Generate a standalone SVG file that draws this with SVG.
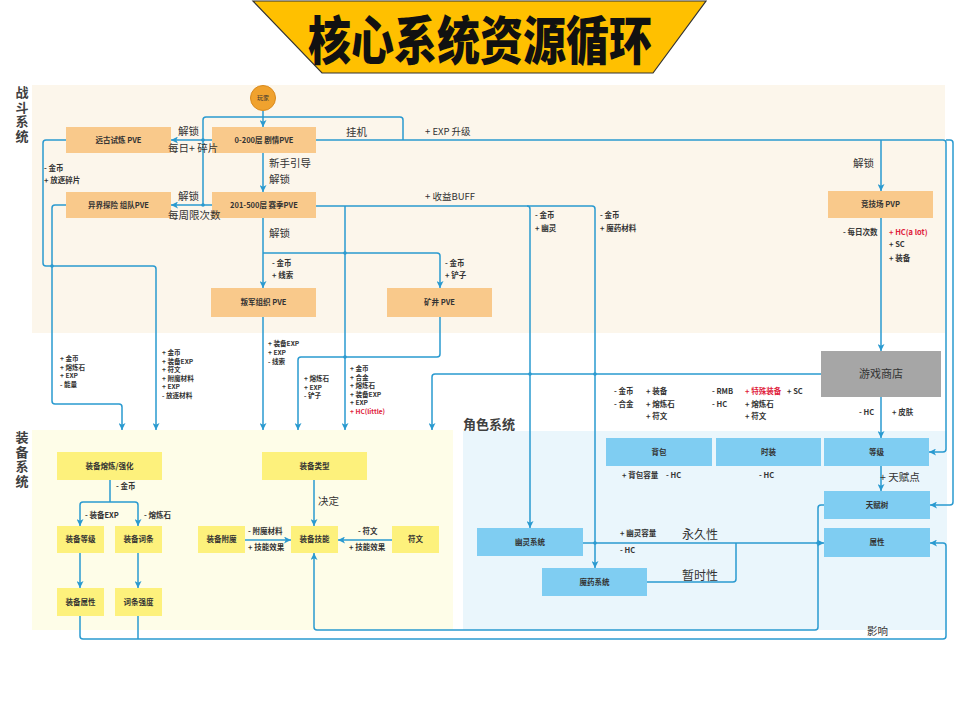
<svg xmlns="http://www.w3.org/2000/svg" width="960" height="720" viewBox="0 0 960 720">
<defs>
<marker id="arr" viewBox="0 0 8 8" refX="8" refY="4" markerWidth="7" markerHeight="7" markerUnits="userSpaceOnUse" orient="auto">
<path d="M0,0 L8,4 L0,8 L2,4 z" fill="#2A9AD0"/>
</marker>
</defs>
<style>
text{font-family:"Noto Sans CJK SC","Noto Sans","Liberation Sans",sans-serif;}
.ln{fill:none;stroke:#2A9AD0;stroke-width:1.5;}
.ar{marker-end:url(#arr);}
.dot{fill:#2A9AD0;}
.on{fill:#F9C98B;}
.yn{fill:#FDF17C;}
.bn{fill:#7FCDF2;}
.nt{font-size:7.5px;font-weight:bold;fill:#333;text-anchor:middle;}
.sl{font-size:7.5px;font-weight:bold;fill:#333;}
.ss{font-size:6.6px;font-weight:bold;fill:#333;}
.ml{font-size:10.5px;fill:#333;}
.red{fill:#E0203A;}
.rg{font-size:13px;font-weight:bold;fill:#404040;writing-mode:vertical-rl;letter-spacing:1.5px;}
</style>
<rect width="960" height="720" fill="#FFFFFF"/>
<!-- regions -->
<rect x="32" y="85" width="913" height="248" fill="#FCF6EB"/>
<rect x="32" y="430" width="421" height="200" fill="#FEFDE8"/>
<rect x="463" y="431" width="484" height="199" fill="#EAF6FC"/>
<!-- title -->
<g id="title">
<polygon points="253,1 706,1 653,73 322,73" fill="#FFC000" stroke="#333" stroke-width="1.2"/>
<g transform="translate(480,60) scale(1,1.22)"><text x="0" y="0" font-size="43" font-weight="900" fill="#111" text-anchor="middle">核心系统资源循环</text></g>
</g>
<g id="region-labels">
<text class="rg" x="22" y="86">战斗系统</text>
<text class="rg" x="22" y="431">装备系统</text>
<text x="463" y="429" font-size="13" font-weight="bold" fill="#404040">角色系统</text>
</g>
<!-- connectors -->
<g id="connectors">
<path class="ln ar" d="M263,111 L263,127"/>
<path class="ln" d="M403,140 L403,120 Q403,117 400,117 L206,117 Q203,117 203,120 L203,205"/>
<path class="ln ar" d="M212,140 L171,140"/>
<path class="ln ar" d="M212,205 L171,205"/>
<path class="ln ar" d="M263,153 L263,192"/>
<path class="ln ar" d="M263,218 L263,288"/>
<path class="ln ar" d="M263,253 L437,253 Q440,253 440,256 L440,288"/>
<path class="ln ar" d="M263,317 L263,430"/>
<path class="ln ar" d="M440,317 L440,354 Q440,357 437,357 L301,357 Q298,357 298,360 L298,430"/>
<path class="ln ar" d="M316,206 L592,206 Q595,206 595,209 L595,568"/>
<path class="ln ar" d="M345,206 L345,430"/>
<path class="ln ar" d="M527,206 Q530,206 530,209 L530,528"/>
<path class="ln ar" d="M316,140 L943,140 Q946,140 946,143 L946,449 Q946,452 943,452 L929,452"/>
<path class="ln ar" d="M946,140 L950,140 Q953,140 953,143 L953,502 Q953,505 950,505 L930,505"/>
<path class="ln ar" d="M881,140 L881,191"/>
<path class="ln ar" d="M881,218 L881,351"/>
<path class="ln ar" d="M881,397 L881,438"/>
<path class="ln ar" d="M821,374 L435,374 Q432,374 432,377 L432,430"/>
<path class="ln ar" d="M66,140 L46,140 Q43,140 43,143 L43,263 Q43,266 46,266 L153,266 Q156,266 156,269 L156,430"/>
<path class="ln ar" d="M66,205 L55,205 Q52,205 52,208 L52,401 Q52,404 55,404 L119,404 Q122,404 122,407 L122,430"/>
<path class="ln" d="M110,480 L110,502"/>
<path class="ln ar" d="M110,502 L83,502 Q80,502 80,505 L80,526"/>
<path class="ln ar" d="M110,502 L135,502 Q138,502 138,505 L138,526"/>
<path class="ln ar" d="M80,553 L80,588"/>
<path class="ln ar" d="M138,553 L138,588"/>
<path class="ln ar" d="M80,616 L80,636 Q80,639 83,639 L943,639 Q946,639 946,636 L946,546 Q946,543 943,543 L930,543"/>
<path class="ln" d="M138,616 L138,639"/>
<path class="ln ar" d="M314,480 L314,526"/>
<path class="ln ar" d="M245,540 L291,540"/>
<path class="ln ar" d="M392,540 L338,540"/>
<path class="ln ar" d="M824,505 L821,505 Q818,505 818,508 L818,627 Q818,630 815,630 L317,630 Q314,630 314,627 L314,553"/>
<path class="ln ar" d="M583,543 L824,543"/>
<path class="ln" d="M647,582 L733,582 Q736,582 736,579 L736,543"/>
<path class="ln ar" d="M881,466 L881,491"/>
<circle class="dot" cx="345" cy="253" r="1.8"/>
<circle class="dot" cx="345" cy="357" r="1.8"/>
<circle class="dot" cx="52" cy="266" r="1.8"/>
<circle class="dot" cx="530" cy="374" r="1.8"/>
<circle class="dot" cx="595" cy="374" r="1.8"/>
<circle class="dot" cx="595" cy="543" r="1.8"/>
<circle class="dot" cx="203" cy="140" r="1.8"/>
<circle class="dot" cx="203" cy="205" r="1.8"/>
<circle class="dot" cx="818" cy="543" r="1.8"/>
</g>
<!-- battle nodes -->
<g id="n-player"><circle cx="263" cy="98" r="12.5" fill="#F0A22E" stroke="#D9891C" stroke-width="1"/><text class="nt" x="263" y="100" style="font-size:6px;font-weight:normal">玩家</text></g>
<g id="n-yuangu"><rect class="on" x="66" y="127" width="105" height="26"/><text class="nt" x="118.5" y="142.7">远古试炼 PVE</text></g>
<g id="n-story"><rect class="on" x="212" y="127" width="104" height="26"/><text class="nt" x="264" y="142.7">0-200层 剧情PVE</text></g>
<g id="n-yijie"><rect class="on" x="66" y="192" width="105" height="26"/><text class="nt" x="118.5" y="207.7">异界探险 组队PVE</text></g>
<g id="n-season"><rect class="on" x="212" y="192" width="104" height="26"/><text class="nt" x="264" y="207.7">201-500层 赛季PVE</text></g>
<g id="n-rebel"><rect class="on" x="211" y="288" width="105" height="29"/><text class="nt" x="263.5" y="305">叛军组织 PVE</text></g>
<g id="n-mine"><rect class="on" x="387" y="288" width="105" height="29"/><text class="nt" x="439.5" y="305">矿井 PVE</text></g>
<g id="n-arena"><rect class="on" x="828" y="191" width="105" height="27"/><text class="nt" x="880.5" y="207.2">竞技场 PVP</text></g>
<g id="n-shop"><rect x="821" y="351" width="120" height="46" fill="#A6A6A6"/><text x="881" y="378" font-size="11" fill="#333" text-anchor="middle">游戏商店</text></g>
<!-- role nodes -->
<g id="n-bag"><rect class="bn" x="606" y="438" width="106" height="28"/><text class="nt" x="659" y="454.7">背包</text></g>
<g id="n-fashion"><rect class="bn" x="716" y="438" width="105" height="28"/><text class="nt" x="768.5" y="454.7">时装</text></g>
<g id="n-level"><rect class="bn" x="824" y="438" width="105" height="28"/><text class="nt" x="876.5" y="454.7">等级</text></g>
<g id="n-talent"><rect class="bn" x="824" y="491" width="106" height="28"/><text class="nt" x="877" y="507.7">天赋树</text></g>
<g id="n-attr"><rect class="bn" x="824" y="528" width="106" height="29"/><text class="nt" x="877" y="545.2">属性</text></g>
<g id="n-ghost"><rect class="bn" x="477" y="528" width="106" height="28"/><text class="nt" x="530" y="544.7">幽灵系统</text></g>
<g id="n-potion"><rect class="bn" x="542" y="568" width="105" height="28"/><text class="nt" x="594.5" y="584.7">魔药系统</text></g>
<!-- equipment nodes -->
<g id="n-smelt"><rect class="yn" x="57" y="452" width="105" height="28"/><text class="nt" x="109.5" y="468.7">装备熔炼/强化</text></g>
<g id="n-elevel"><rect class="yn" x="57" y="526" width="47" height="27"/><text class="nt" x="80.5" y="542.2">装备等级</text></g>
<g id="n-affix"><rect class="yn" x="115" y="526" width="47" height="27"/><text class="nt" x="138.5" y="542.2">装备词条</text></g>
<g id="n-eattr"><rect class="yn" x="57" y="588" width="47" height="28"/><text class="nt" x="80.5" y="604.7">装备属性</text></g>
<g id="n-affixp"><rect class="yn" x="115" y="588" width="47" height="28"/><text class="nt" x="138.5" y="604.7">词条强度</text></g>
<g id="n-enchant"><rect class="yn" x="198" y="526" width="47" height="27"/><text class="nt" x="221.5" y="542.2">装备附魔</text></g>
<g id="n-etype"><rect class="yn" x="262" y="452" width="105" height="28"/><text class="nt" x="314.5" y="468.7">装备类型</text></g>
<g id="n-eskill"><rect class="yn" x="291" y="526" width="47" height="27"/><text class="nt" x="314.5" y="542.2">装备技能</text></g>
<g id="n-rune"><rect class="yn" x="392" y="526" width="47" height="27"/><text class="nt" x="415.5" y="542.2">符文</text></g>
<!-- labels -->
<g id="labels">
<text class="ml" x="178" y="135">解锁</text>
<text class="ml" x="168" y="152">每日+ 碎片</text>
<text class="ml" x="178" y="200">解锁</text>
<text class="ml" x="168" y="219">每周限次数</text>
<text class="ml" x="269" y="167">新手引导</text>
<text class="ml" x="269" y="183">解锁</text>
<text class="ml" x="269" y="237">解锁</text>
<text class="ml" x="346" y="136">挂机</text>
<text class="ml" x="425" y="135" style="font-size:9.5px">+ EXP 升级</text>
<text class="ml" x="425" y="200" style="font-size:9.5px">+ 收益BUFF</text>
<text class="ml" x="853" y="167">解锁</text>
<text class="ml" x="880" y="481">+ 天赋点</text>
<text class="ml" x="318" y="505">决定</text>
<text class="ml" x="682" y="539" style="font-size:12px">永久性</text>
<text class="ml" x="682" y="580" style="font-size:12px">暂时性</text>
<text class="ml" x="867" y="635">影响</text>

<text class="sl" x="44" y="171">- 金币</text><text class="sl" x="44" y="183">+ 放逐碎片</text>
<text class="sl" x="272" y="266">- 金币</text><text class="sl" x="272" y="278">+ 线索</text>
<text class="sl" x="445" y="266">- 金币</text><text class="sl" x="445" y="278">+ 铲子</text>
<text class="sl" x="535" y="218">- 金币</text><text class="sl" x="535" y="231">+ 幽灵</text>
<text class="sl" x="600" y="218">- 金币</text><text class="sl" x="600" y="231">+ 魔药材料</text>
<text class="sl" x="843" y="235">- 每日次数</text>
<text class="sl red" x="889" y="235">+ HC(a lot)</text>
<text class="sl" x="889" y="247">+ SC</text>
<text class="sl" x="889" y="261">+ 装备</text>

<text class="ss" x="60" y="361">+ 金币</text><text class="ss" x="60" y="369.5">+ 熔炼石</text><text class="ss" x="60" y="378">+ EXP</text><text class="ss" x="60" y="386.5">- 能量</text>
<text class="ss" x="162" y="355">+ 金币</text><text class="ss" x="162" y="363.5">+ 装备EXP</text><text class="ss" x="162" y="372">+ 符文</text><text class="ss" x="162" y="380.5">+ 附魔材料</text><text class="ss" x="162" y="389">+ EXP</text><text class="ss" x="162" y="397.5">- 放逐材料</text>
<text class="ss" x="268" y="346">+ 装备EXP</text><text class="ss" x="268" y="355">+ EXP</text><text class="ss" x="268" y="364">- 线索</text>
<text class="ss" x="304" y="381">+ 熔炼石</text><text class="ss" x="304" y="389.5">+ EXP</text><text class="ss" x="304" y="398">- 铲子</text>
<text class="ss" x="350" y="371">+ 金币</text><text class="ss" x="350" y="379.5">+ 合金</text><text class="ss" x="350" y="388">+ 熔炼石</text><text class="ss" x="350" y="396.5">+ 装备EXP</text><text class="ss" x="350" y="405">+ EXP</text><text class="ss red" x="350" y="413.5">+ HC(little)</text>

<text class="sl" x="614" y="394">- 金币</text><text class="sl" x="646" y="394">+ 装备</text>
<text class="sl" x="614" y="407">- 合金</text><text class="sl" x="646" y="407">+ 熔炼石</text>
<text class="sl" x="646" y="419">+ 符文</text>
<text class="sl" x="712" y="394">- RMB</text><text class="sl red" x="745" y="394">+ 特殊装备</text><text class="sl" x="787" y="394">+ SC</text>
<text class="sl" x="712" y="407">- HC</text><text class="sl" x="745" y="407">+ 熔炼石</text>
<text class="sl" x="745" y="419">+ 符文</text>
<text class="sl" x="859" y="415">- HC</text><text class="sl" x="892" y="415">+ 皮肤</text>
<text class="sl" x="622" y="478">+ 背包容量</text><text class="sl" x="666" y="478">- HC</text>
<text class="sl" x="759" y="478">- HC</text>

<text class="sl" x="116" y="489">- 金币</text>
<text class="sl" x="85" y="518">- 装备EXP</text>
<text class="sl" x="144" y="518">- 熔炼石</text>
<text class="sl" x="248" y="534">- 附魔材料</text><text class="sl" x="248" y="550">+ 技能效果</text>
<text class="sl" x="358" y="534">- 符文</text><text class="sl" x="349" y="550">+ 技能效果</text>
<text class="sl" x="620" y="536">+ 幽灵容量</text><text class="sl" x="620" y="553">- HC</text>
</g>
</svg>
